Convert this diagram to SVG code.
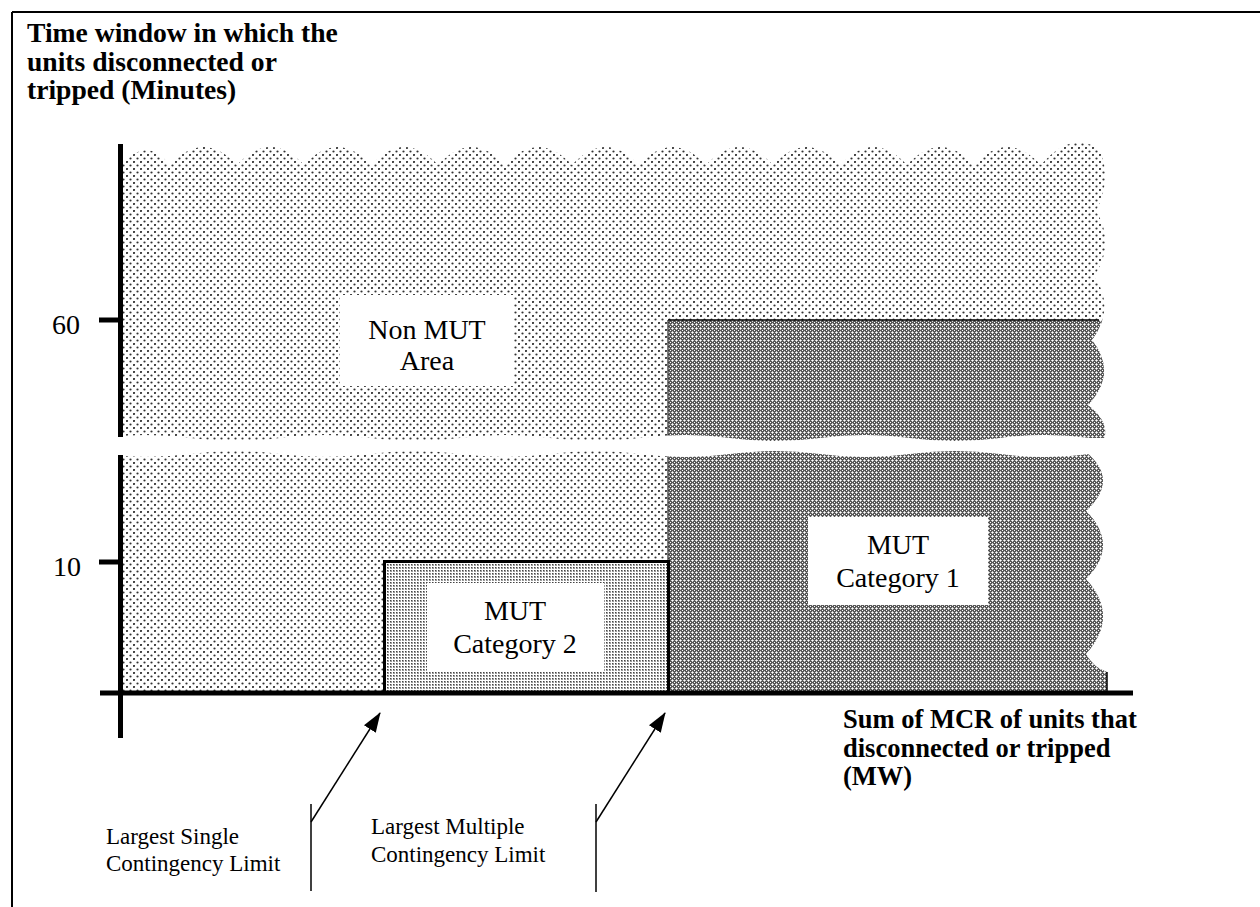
<svg xmlns="http://www.w3.org/2000/svg" width="1260" height="907" viewBox="0 0 1260 907">
  <style>
    .frame { stroke: #000; stroke-width: 2; fill: none; }
    .axis { stroke: #000; stroke-width: 5; fill: none; }
    .title { font-family: 'Liberation Serif', 'Times New Roman', serif; font-weight: bold; fill: #000; }
    .tick { font-family: 'Liberation Serif', 'Times New Roman', serif; font-size: 28px; fill: #000; }
    .area { font-family: 'Liberation Serif', 'Times New Roman', serif; font-size: 28px; fill: #000; text-anchor: middle; }
    .note { font-family: 'Liberation Serif', 'Times New Roman', serif; font-size: 23px; fill: #000; }
    .leader { stroke: #000; stroke-width: 1.5; fill: none; }
    .box { fill: #fff; stroke: none; }
  </style>
  <defs>
    <!-- light dotted screen: area outside the MUT categories -->
    <pattern id="pat-light" patternUnits="userSpaceOnUse" x="0" y="0" width="7" height="7">
      <rect width="7" height="7" fill="#fff"/>
      <circle cx="1" cy="1" r="1.1" fill="#333"/>
      <circle cx="4.5" cy="4.5" r="1.1" fill="#333"/>
    </pattern>
    <!-- fine medium screen: MUT Category 2 -->
    <pattern id="pat-mid" patternUnits="userSpaceOnUse" x="0" y="0" width="3" height="3">
      <rect width="3" height="3" fill="#fff"/>
      <rect width="2" height="2" fill="#9a9a9a"/>
      <rect width="1" height="1" fill="#444"/>
    </pattern>
    <!-- dark cross-hatch screen: MUT Category 1 -->
    <pattern id="pat-dark" patternUnits="userSpaceOnUse" x="0" y="0" width="4" height="4">
      <rect width="4" height="4" fill="#585858"/>
      <rect x="0" y="0" width="1" height="1" fill="#fff"/>
      <rect x="1" y="0" width="1" height="1" fill="#d0d0d0"/>
      <rect x="3" y="0" width="1" height="1" fill="#d0d0d0"/>
      <rect x="0" y="1" width="1" height="1" fill="#d0d0d0"/>
      <rect x="0" y="3" width="1" height="1" fill="#d0d0d0"/>
      <rect x="2" y="2" width="1" height="1" fill="#fff"/>
    </pattern>
    <!-- overall plotted region with torn top and right edges -->
    <clipPath id="region-clip">
      <path d="M122,165 Q146,135 170,165 Q203.5,129 237,165 Q270.5,129 304,165 Q337.5,129 371,165 Q404.5,129 438,165 Q471.5,129 505,165 Q538.5,129 572,165 Q605.5,129 639,165 Q672.5,129 706,165 Q739.5,129 773,165 Q806.5,129 840,165 Q873.5,129 907,165 Q940.5,129 974,165 Q1007.5,129 1041,165 Q1072,129 1100,150 Q1112,180 1096,211 Q1116,244 1094,276 Q1116,308 1092,340 Q1118,373 1088,405 Q1110,422 1104,440 L1086,452 Q1120,480 1086,511 Q1120,545 1086,579 Q1120,616 1086,654 Q1094,668 1107,672 L1107,692 L122,692 Z"/>
    </clipPath>
    <marker id="arrow" viewBox="0 0 20 14" refX="19" refY="7" markerWidth="20" markerHeight="14" markerUnits="userSpaceOnUse" orient="auto">
      <path d="M0,0 L20,7 L0,14 Z" fill="#000"/>
    </marker>
  </defs>

  <!-- page frame (top and left rules) -->
  <g id="frame">
    <line class="frame" x1="12" y1="12" x2="1260" y2="12"/>
    <line class="frame" x1="12" y1="12" x2="12" y2="907"/>
  </g>

  <!-- shaded regions -->
  <g id="non-mut-area">
    <path d="M122,165 Q146,135 170,165 Q203.5,129 237,165 Q270.5,129 304,165 Q337.5,129 371,165 Q404.5,129 438,165 Q471.5,129 505,165 Q538.5,129 572,165 Q605.5,129 639,165 Q672.5,129 706,165 Q739.5,129 773,165 Q806.5,129 840,165 Q873.5,129 907,165 Q940.5,129 974,165 Q1007.5,129 1041,165 Q1072,129 1100,150 Q1112,180 1096,211 Q1116,244 1094,276 Q1116,308 1092,340 Q1118,373 1088,405 Q1110,422 1104,440 L1086,452 Q1120,480 1086,511 Q1120,545 1086,579 Q1120,616 1086,654 Q1094,668 1107,672 L1107,692 L122,692 Z" fill="url(#pat-light)"/>
  </g>
  <g id="mut-category-1">
    <rect x="668" y="320" width="470" height="372" fill="url(#pat-dark)" clip-path="url(#region-clip)"/>
    <line x1="668" y1="320" x2="1099" y2="320" stroke="#000" stroke-width="1.6"/>
    <line x1="668" y1="320" x2="668" y2="562" stroke="#222" stroke-width="1.2"/>
  </g>
  <g id="mut-category-2">
    <rect x="384.5" y="561.5" width="284" height="131" fill="url(#pat-mid)" stroke="#000" stroke-width="3"/>
  </g>

  <!-- scale break across the plot -->
  <path id="scale-break" d="M100,438 Q145,432 190,438 T280,438 T370,438 T460,438 T550,438 T640,438 T730,438 T820,438 T910,438 T1000,438 T1090,438 L1130,438 L1130,454 L1090,454 Q1045,460 1000,454 T910,454 T820,454 T730,454 T640,454 T550,454 T460,454 T370,454 T280,454 T190,454 T100,454 Z" fill="#fff"/>
  <line x1="1107" y1="672" x2="1107" y2="692" stroke="#000" stroke-width="1.5"/>

  <!-- axes and ticks -->
  <g id="axes">
    <line class="axis" x1="120.5" y1="144" x2="120.5" y2="437"/>
    <line class="axis" x1="120.5" y1="455" x2="120.5" y2="738"/>
    <line class="axis" x1="100" y1="693" x2="1133" y2="693"/>
    <line class="axis" x1="99" y1="320" x2="120" y2="320"/>
    <line class="axis" x1="99" y1="562" x2="120" y2="562"/>
    <text class="tick" x="52" y="334">60</text>
    <text class="tick" x="53" y="576">10</text>
  </g>

  <!-- axis titles -->
  <g id="y-title" font-size="27.6">
    <text class="title" x="27" y="42">Time window in which the</text>
    <text class="title" x="27" y="71">units disconnected or</text>
    <text class="title" x="27" y="99">tripped (Minutes)</text>
  </g>
  <g id="x-title" font-size="26.5">
    <text class="title" x="843" y="728">Sum of MCR of units that</text>
    <text class="title" x="843" y="757">disconnected or tripped</text>
    <text class="title" x="843" y="785">(MW)</text>
  </g>

  <!-- region labels -->
  <g id="label-non-mut">
    <rect class="box" x="340" y="295" width="174" height="91"/>
    <text class="area" x="427" y="339">Non MUT</text>
    <text class="area" x="427" y="370">Area</text>
  </g>
  <g id="label-cat-2">
    <rect class="box" x="427" y="583" width="177" height="89"/>
    <text class="area" x="515" y="620">MUT</text>
    <text class="area" x="515" y="653">Category 2</text>
  </g>
  <g id="label-cat-1">
    <rect class="box" x="808" y="517" width="180" height="88"/>
    <text class="area" x="898" y="554">MUT</text>
    <text class="area" x="898" y="587">Category 1</text>
  </g>

  <!-- limit callouts -->
  <g id="note-single">
    <text class="note" x="106" y="844">Largest Single</text>
    <text class="note" x="106" y="871">Contingency Limit</text>
  </g>
  <g id="note-multiple">
    <text class="note" x="371" y="834">Largest Multiple</text>
    <text class="note" x="371" y="862">Contingency Limit</text>
  </g>
  <g id="connectors">
    <line class="leader" x1="311" y1="804" x2="311" y2="891"/>
    <line class="leader" x1="311" y1="822" x2="380" y2="713" marker-end="url(#arrow)"/>
    <line class="leader" x1="596" y1="804" x2="596" y2="892"/>
    <line class="leader" x1="596" y1="822" x2="665" y2="713" marker-end="url(#arrow)"/>
  </g>
</svg>
